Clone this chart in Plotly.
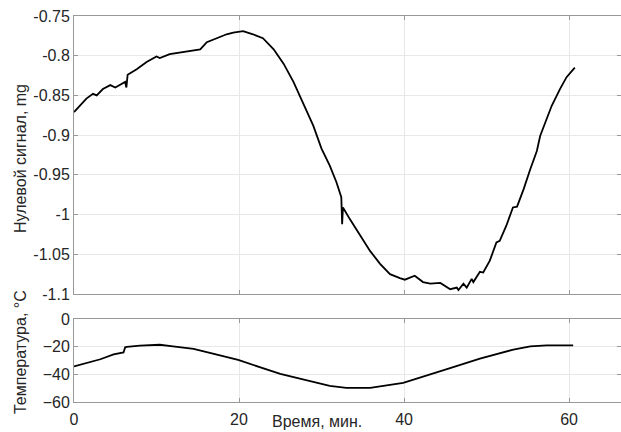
import plotly.graph_objects as go

# ---- data ----
time_signal = [0.0, 0.7, 1.5, 2.3, 2.75, 3.5, 4.4, 5.0, 5.6, 6.2, 6.35, 6.5, 7.6, 8.8, 10.0, 10.4,
               11.6, 12.8, 14.1, 15.3, 16.1, 17.3, 18.5, 19.3, 20.5, 21.7, 22.9, 24.2, 25.4, 26.6,
               27.8, 29.0, 30.0, 31.0, 31.8, 32.4, 32.5, 32.6, 33.45, 34.7, 35.9, 37.1, 38.3, 39.5,
               40.1, 41.3, 42.3, 43.2, 44.4, 45.6, 46.4, 46.6, 47.2, 47.6, 48.2, 48.4, 49.2, 49.6,
               50.4, 51.2, 51.6, 52.4, 53.2, 53.7, 54.5, 55.3, 56.1, 56.5, 57.1, 57.9, 58.9, 59.7, 60.7]
signal = [-0.871, -0.863, -0.854, -0.848, -0.850, -0.842, -0.837, -0.840, -0.837, -0.833, -0.840,
          -0.824, -0.817, -0.808, -0.801, -0.803, -0.798, -0.796, -0.794, -0.792, -0.783, -0.778,
          -0.773, -0.771, -0.769, -0.773, -0.778, -0.792, -0.810, -0.833, -0.861, -0.888, -0.917,
          -0.9385, -0.959, -0.978, -1.012, -0.991, -1.006, -1.027, -1.046, -1.062, -1.075, -1.080,
          -1.082, -1.077, -1.085, -1.087, -1.086, -1.094, -1.092, -1.095, -1.087, -1.092, -1.081,
          -1.085, -1.072, -1.073, -1.058, -1.035, -1.033, -1.014, -0.991, -0.990, -0.968, -0.943,
          -0.920, -0.901, -0.884, -0.863, -0.842, -0.827, -0.815]

time_temp = [0.0, 1.5, 3.2, 4.8, 6.0, 6.2, 6.4, 8.0, 10.4, 12.0, 14.5, 19.9, 25.0, 31.0, 33.0,
             35.9, 39.9, 45.2, 49.2, 53.25, 55.3, 57.3, 60.5]
temp = [-34.3, -32.0, -29.1, -25.6, -24.2, -20.5, -20.2, -19.3, -18.6, -19.8, -21.6, -29.6, -39.7,
        -48.4, -49.8, -49.8, -46.1, -36.2, -28.7, -22.1, -19.8, -19.0, -19.0]

x_ticks = [0, 20, 40, 60]
sig_ticks = [-1.1, -1.05, -1.0, -0.95, -0.9, -0.85, -0.8, -0.75]
sig_labels = ["-1.1", "-1.05", "-1", "-0.95", "-0.9", "-0.85", "-0.8", "-0.75"]
temp_ticks = [-60, -40, -20, 0]

FONT = "Liberation Sans, Arial, sans-serif"
TXT = "#262626"
AX = "#999999"
GRID = "#e8e8e8"

fig = go.Figure()
fig.add_trace(go.Scatter(x=time_signal, y=signal, mode="lines",
                         line=dict(color="black", width=1.8), xaxis="x2", yaxis="y2",
                         showlegend=False))
fig.add_trace(go.Scatter(x=time_temp, y=temp, mode="lines",
                         line=dict(color="black", width=1.8), xaxis="x", yaxis="y",
                         showlegend=False))

common_x = dict(range=[0, 66.3], tickvals=x_ticks, showgrid=True, gridcolor=GRID,
                zeroline=False, showline=True, linecolor=AX, linewidth=1, mirror="ticks",
                ticks="inside", ticklen=4, tickcolor=AX)
common_y = dict(showgrid=True, gridcolor=GRID, zeroline=False, showline=True, linecolor=AX,
                linewidth=1, mirror="ticks", ticks="inside", ticklen=4, tickcolor=AX)

fig.update_layout(
    width=621, height=432,
    margin=dict(l=74, r=0, t=16, b=30),
    paper_bgcolor="white", plot_bgcolor="white",
    font=dict(family=FONT, size=16, color=TXT),
    xaxis=dict(**common_x, domain=[0, 1], anchor="y", tickfont=dict(size=16, color=TXT),
               ticklabelstandoff=3),
    yaxis=dict(**common_y, domain=[0, 0.215], range=[-60, 0], tickvals=temp_ticks,
               tickfont=dict(size=16, color=TXT)),
    xaxis2=dict(**common_x, domain=[0, 1], anchor="y2", showticklabels=False, matches="x"),
    yaxis2=dict(**common_y, domain=[0.2798, 1], range=[-1.1, -0.75], tickvals=sig_ticks,
                ticktext=sig_labels, tickfont=dict(size=16, color=TXT)),
    annotations=[
        dict(text="Нулевой сигнал, mg", xref="paper", yref="paper", x=-74/547 + 20/547,
             y=(386 - (158 - 16)) / 386, textangle=-90, showarrow=False,
             xanchor="center", yanchor="middle", font=dict(size=16, color=TXT)),
        dict(text="Температура, °C", xref="paper", yref="paper", x=-74/547 + 20/547,
             y=(386 - (352 - 16)) / 386, textangle=-90, showarrow=False,
             xanchor="center", yanchor="middle", font=dict(size=16, color=TXT)),
        dict(text="Время, мин.", xref="paper", yref="paper", x=(317 - 74) / 547,
             y=(386 - (421 - 16)) / 386, showarrow=False,
             xanchor="center", yanchor="middle", font=dict(size=16, color=TXT)),
    ],
)

fig.write_html("out.html")
